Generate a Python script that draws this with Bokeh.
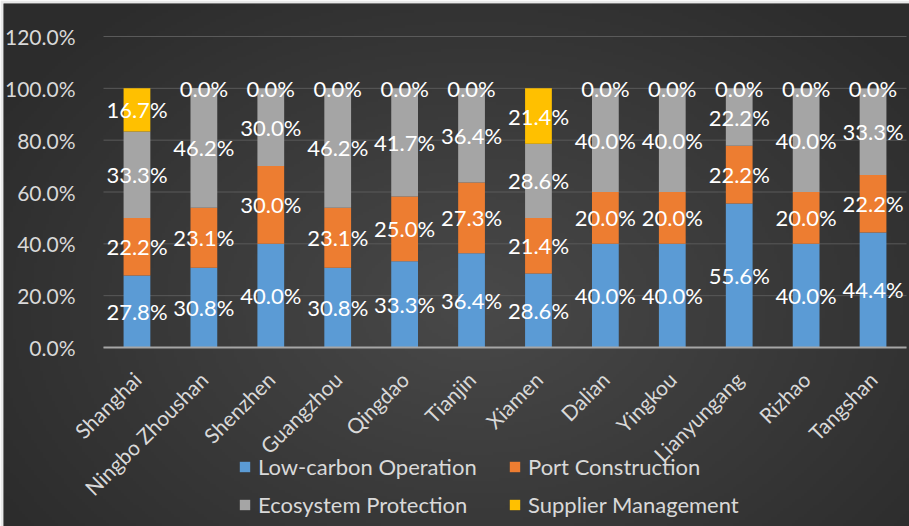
from bokeh.plotting import figure
from bokeh.models import (ColumnDataSource, Legend, LegendItem, FixedTicker,
                          PrintfTickFormatter, Range1d)
from bokeh.embed import file_html
from bokeh.resources import INLINE
from bokeh.core.properties import value
import numpy as np
import math

ports = ["Shanghai", "Ningbo Zhoushan", "Shenzhen", "Guangzhou", "Qingdao", "Tianjin",
         "Xiamen", "Dalian", "Yingkou", "Lianyungang", "Rizhao", "Tangshan"]
low_carbon = [27.8, 30.8, 40.0, 30.8, 33.3, 36.4, 28.6, 40.0, 40.0, 55.6, 40.0, 44.4]
port_construction = [22.2, 23.1, 30.0, 23.1, 25.0, 27.3, 21.4, 20.0, 20.0, 22.2, 20.0, 22.2]
ecosystem = [33.3, 46.2, 30.0, 46.2, 41.7, 36.4, 28.6, 40.0, 40.0, 22.2, 40.0, 33.3]
supplier = [16.7, 0.0, 0.0, 0.0, 0.0, 0.0, 21.4, 0.0, 0.0, 0.0, 0.0, 0.0]
series_names = ["Low-carbon Operation", "Port Construction", "Ecosystem Protection", "Supplier Management"]
y_ticks = [0, 20, 40, 60, 80, 100, 120]

colors = ["#5b9bd5", "#ed7d31", "#a5a5a5", "#ffc000"]
keys = ["low", "port", "eco", "sup"]
series = [low_carbon, port_construction, ecosystem, supplier]

n = len(ports)
xs = [i + 0.5 for i in range(n)]  # category centres on the axis scale

src = ColumnDataSource({"x": xs, "low": low_carbon, "port": port_construction,
                        "eco": ecosystem, "sup": supplier})

FONT = "Lato"
LABEL = "#d9d9d9"

# pixel layout
W, H = 909, 526
FRAME_L, FRAME_T = 3, 3
PLOT_L, PLOT_R = 103, 906
Y120_PX, ZERO_PX = 36, 347
px_per_unit = (ZERO_PX - Y120_PX) / 120.0
y_max = 120.0 + (Y120_PX - FRAME_T) / px_per_unit
y_min = -(H - ZERO_PX) / px_per_unit
cat_px = (PLOT_R - PLOT_L) / n
x_min = -(PLOT_L - FRAME_L) / cat_px
x_max = n + (W - PLOT_R) / cat_px

p = figure(x_range=Range1d(x_min, x_max), y_range=Range1d(y_min, y_max), width=W, height=H,
           output_backend="svg", toolbar_location=None,
           min_border_left=FRAME_L, min_border_right=0, min_border_top=FRAME_T,
           min_border_bottom=0)
p.background_fill_color = "#3e3e3e"
p.border_fill_color = "#e8e8e8"
p.outline_line_color = None
p.xgrid.visible = False
p.ygrid.visible = False

# soft radial background shading (decoration)
gh, gw = 176, 303
yy, xx = np.mgrid[0:gh, 0:gw]
r = np.sqrt(((xx - gw * 0.52) / (gw * 0.62)) ** 2 + ((yy - gh * 0.42) / (gh * 0.75)) ** 2)
r = np.clip(r, 0, 1)
g = (0x49 + (0x2c - 0x49) * r).astype(np.uint32)
img = (255 << 24) | (g << 16) | (g << 8) | g
p.image_rgba(image=[img.astype(np.uint32)], x=x_min, y=y_min, dw=x_max - x_min, dh=y_max - y_min,
             level="underlay")

# horizontal gridlines across the plot area
p.segment(x0=[0] * len(y_ticks), x1=[n] * len(y_ticks), y0=y_ticks, y1=y_ticks,
          line_color="#5a5a5a", line_width=1)

renderers = p.vbar_stack(keys, x="x", width=0.4, color=colors, line_color=None, source=src)

# data labels
lx, ly, lt = [], [], []
for i in range(n):
    base = 0.0
    for s in series:
        v = s[i]
        lx.append(xs[i])
        ly.append(base + v / 2.0)
        lt.append("%.1f%%" % v)
        base += v
p.text(x=lx, y=ly, text=lt, text_color="white", text_font=value(FONT),
       text_font_size="22px", text_align="center", text_baseline="middle")

# y axis
p.yaxis.fixed_location = 0
p.yaxis.ticker = FixedTicker(ticks=y_ticks)
p.yaxis.formatter = PrintfTickFormatter(format="%.1f%%")
p.yaxis.axis_line_color = None
p.yaxis.major_tick_line_color = None
p.yaxis.minor_tick_line_color = None
p.yaxis.major_label_text_color = LABEL
p.yaxis.major_label_text_font = FONT
p.yaxis.major_label_text_font_size = "21px"
p.yaxis.major_label_standoff = 22

# x axis
p.xaxis.fixed_location = 0
p.xaxis.bounds = (0, n)
p.xaxis.ticker = FixedTicker(ticks=xs)
p.xaxis.major_label_overrides = {x: name for x, name in zip(xs, ports)}
p.xaxis.axis_line_color = "#a6a6a6"
p.xaxis.axis_line_width = 2
p.xaxis.major_tick_line_color = None
p.xaxis.minor_tick_line_color = None
p.xaxis.major_label_orientation = math.pi / 4
p.xaxis.major_label_text_color = LABEL
p.xaxis.major_label_text_font = FONT
p.xaxis.major_label_text_font_size = "21px"
p.xaxis.major_label_standoff = 22

legend_style = dict(orientation="vertical", background_fill_alpha=0, border_line_alpha=0,
                    label_text_color=LABEL, label_text_font=FONT, label_text_font_size="22px",
                    glyph_width=13, glyph_height=13, label_standoff=7, spacing=11,
                    padding=0, margin=0)
legend_bottom_px = 518
leg1 = Legend(items=[LegendItem(label=series_names[0], renderers=[renderers[0]]),
                     LegendItem(label=series_names[2], renderers=[renderers[2]])],
              location=(238 - FRAME_L, H - legend_bottom_px), **legend_style)
leg2 = Legend(items=[LegendItem(label=series_names[1], renderers=[renderers[1]]),
                     LegendItem(label=series_names[3], renderers=[renderers[3]])],
              location=(508 - FRAME_L, H - legend_bottom_px), **legend_style)
p.add_layout(leg1, "center")
p.add_layout(leg2, "center")

open("out.html", "w").write(file_html(p, INLINE))
